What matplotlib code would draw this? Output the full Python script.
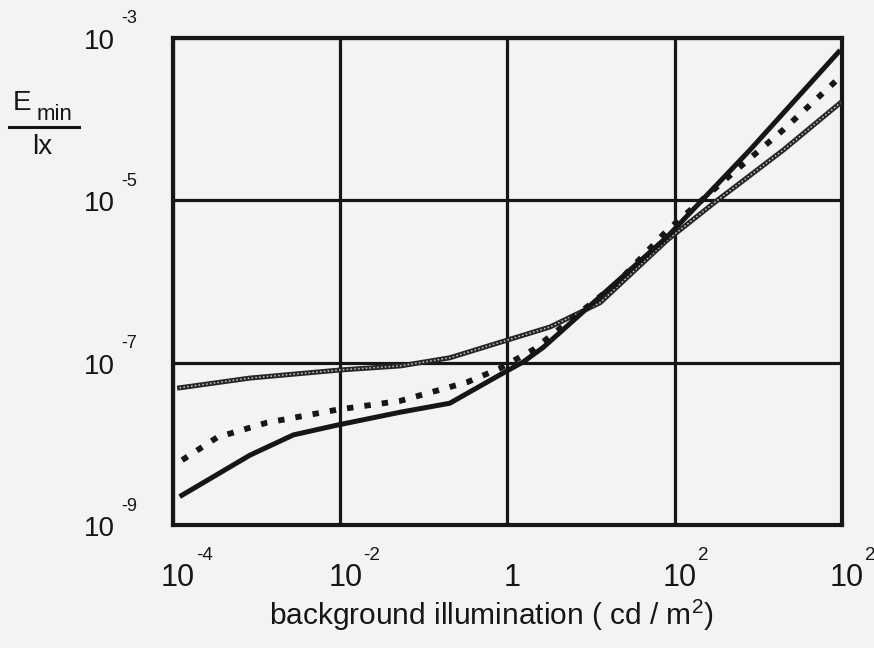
import numpy as np
import matplotlib.pyplot as plt
from matplotlib.transforms import offset_copy

plt.rcParams['font.family'] = ['Liberation Sans', 'DejaVu Sans']
plt.rcParams['mathtext.fontset'] = 'custom'
plt.rcParams['mathtext.rm'] = 'Liberation Sans'
plt.rcParams['mathtext.it'] = 'Liberation Sans'

# log10 of background luminance (cd/m2) and log10 of E_min (lx)
solid_x = [-3.92, -3.08, -2.56, -2.04, -1.28, -0.69, -0.09, 0.19, 0.43, 1.91, 2.90, 3.98]
solid_y = [-8.65, -8.14, -7.89, -7.77, -7.61, -7.50, -7.15, -6.99, -6.81, -5.45, -4.38, -3.15]

dotted_x = [-3.89, -3.47, -2.88, -2.04, -1.28, -0.48, -0.09, 0.31, 0.71, 1.31, 1.91, 2.70, 3.30, 3.98]
dotted_y = [-8.20, -7.92, -7.74, -7.58, -7.47, -7.24, -7.07, -6.84, -6.51, -6.02, -5.37, -4.66, -4.13, -3.48]

beaded_x = [-3.92, -3.08, -2.00, -1.28, -0.69, -0.09, 0.51, 1.11, 1.91, 2.51, 3.30, 3.98]
beaded_y = [-7.31, -7.19, -7.09, -7.04, -6.94, -6.75, -6.56, -6.26, -5.49, -5.00, -4.38, -3.80]

x_ticks = [1e-4, 1e-2, 1, 1e2, 1e4]
x_base = ['10', '10', '1', '10', '10']
x_exp = ['-4', '-2', '', '2', '2']
y_ticks = [1e-3, 1e-5, 1e-7, 1e-9]
y_exp = ['-3', '-5', '-7', '-9']

ink = '#161616'
paper = '#f3f3f1'

fig = plt.figure(figsize=(8.74, 6.48), dpi=100, facecolor=paper)
ax = fig.add_axes([0.1979, 0.1898, 0.7654, 0.7516], facecolor=paper)
ax.set_xscale('log')
ax.set_yscale('log')
ax.set_xlim(1e-4, 1e4)
ax.set_ylim(1e-9, 1e-3)

for t in x_ticks:
    ax.axvline(t, color=ink, lw=2.3, zorder=1)
for t in y_ticks:
    ax.axhline(t, color=ink, lw=2.3, zorder=1)
for s in ax.spines.values():
    s.set_linewidth(3)
    s.set_color(ink)

sx = 10 ** np.array(solid_x)
sy = 10 ** np.array(solid_y)
ax.plot(sx, sy, color=ink, lw=3.6, solid_capstyle='butt', solid_joinstyle='round', zorder=4)

dx = 10 ** np.array(dotted_x)
dy = 10 ** np.array(dotted_y)
ax.plot(dx, dy, color=ink, lw=4.2, linestyle=(0, (1.1, 1.9)),
        dash_capstyle='butt', zorder=5)

# chain of small rings: dark line with a light dotted core
bx = 10 ** np.array(beaded_x)
by = 10 ** np.array(beaded_y)
ax.plot(bx, by, color='#262626', lw=3.6, zorder=3)
ax.plot(bx, by, color='#c8c8c8', lw=1.1, linestyle=(0, (1.0, 1.5)), zorder=3)

ax.set_xticks([])
ax.set_yticks([])
ax.minorticks_off()

# tick labels drawn by hand: "10" plus a raised exponent
xtr = ax.get_xaxis_transform()
for t, b, e in zip(x_ticks, x_base, x_exp):
    ax.text(t, -0.074, b, transform=offset_copy(xtr, fig, x=5, y=-2, units='dots'),
            ha='center', va='top', fontsize=22, color=ink, clip_on=False)
    if e:
        ax.text(t, -0.043, e, transform=offset_copy(xtr, fig, x=23, y=-1, units='dots'),
                ha='left', va='top', fontsize=13.5, color=ink, clip_on=False)

ytr = ax.get_yaxis_transform()
for t, e in zip(y_ticks, y_exp):
    ax.text(-0.087, t, '10', transform=offset_copy(ytr, fig, x=0, y=-4, units='dots'),
            ha='right', va='center', fontsize=20, color=ink, clip_on=False)
    ax.text(-0.078, t, e, transform=offset_copy(ytr, fig, x=0, y=19, units='dots'),
            ha='left', va='center', fontsize=13, color=ink, clip_on=False)

# axis titles
fig.text(0.015, 0.83, 'E', fontsize=20, color=ink, ha='left', va='baseline')
fig.text(0.042, 0.815, 'min', fontsize=16, color=ink, ha='left', va='baseline')
fig.add_artist(plt.Line2D([0.01, 0.09], [0.804, 0.804], color=ink, lw=2.2))
fig.text(0.037, 0.762, 'lx', fontsize=20, color=ink, ha='left', va='baseline')

fig.text(0.562, 0.036, 'background illumination ( cd / m$^2$)', fontsize=21.5,
         color=ink, ha='center', va='baseline')

fig.savefig('out.png', dpi=100, facecolor=paper)
